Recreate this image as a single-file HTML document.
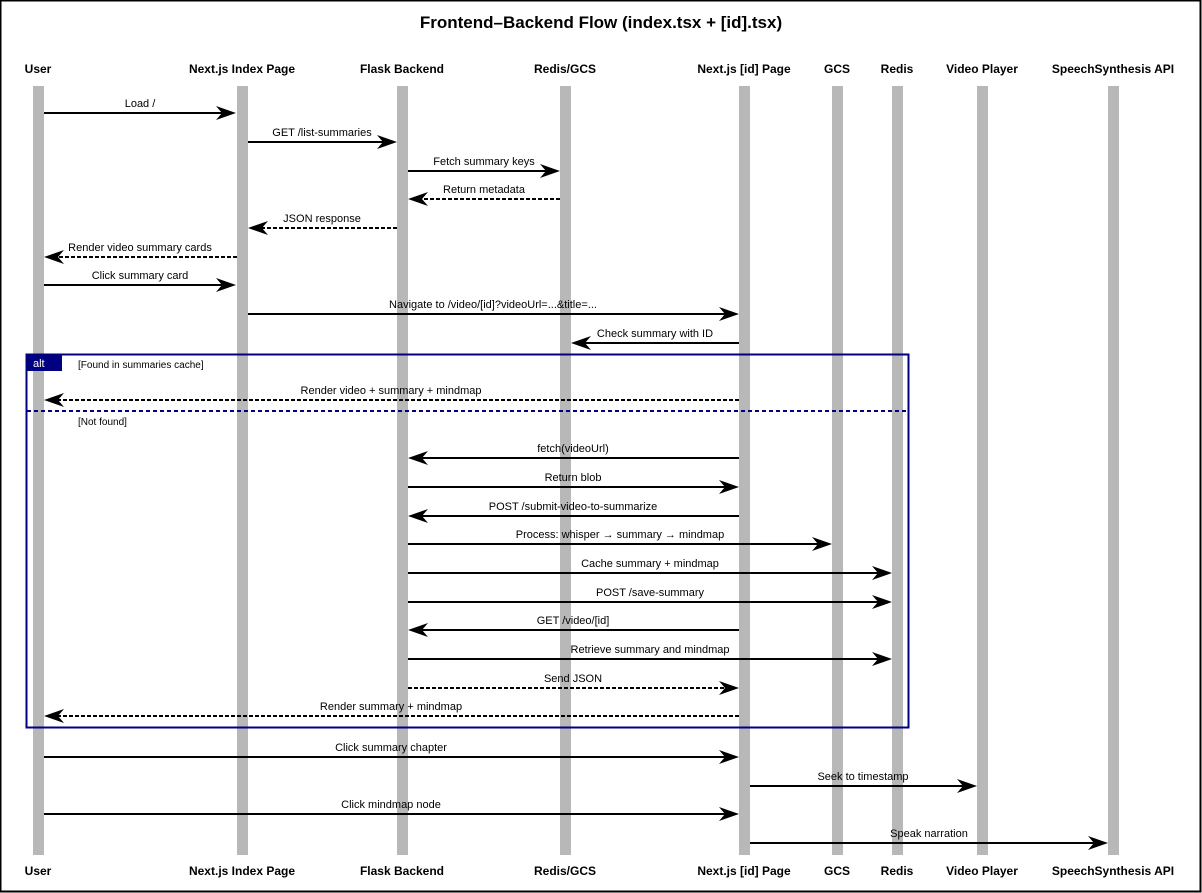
<!DOCTYPE html>
<html><head><meta charset="utf-8"><style>
html,body{margin:0;padding:0;background:#fff}
svg{display:block}
text{font-family:"Liberation Sans",sans-serif;fill:#000}
.l{font-size:11px;text-anchor:middle}
.p{font-size:12px;font-weight:bold;text-anchor:middle}
</style></head><body>
<svg width="1202" height="893" viewBox="0 0 1202 893" xmlns="http://www.w3.org/2000/svg">
<rect x="0.5" y="0.5" width="1200" height="891" fill="#fff" stroke="#000" stroke-width="2"/>
<text x="601" y="28" style="font-size:17px;font-weight:bold;text-anchor:middle">Frontend–Backend Flow (index.tsx + [id].tsx)</text>
<g fill="#b8b8b8">
<rect x="33" y="86" width="11" height="769"/>
<rect x="237" y="86" width="11" height="769"/>
<rect x="397" y="86" width="11" height="769"/>
<rect x="560" y="86" width="11" height="769"/>
<rect x="739" y="86" width="11" height="769"/>
<rect x="832" y="86" width="11" height="769"/>
<rect x="892" y="86" width="11" height="769"/>
<rect x="977" y="86" width="11" height="769"/>
<rect x="1108" y="86" width="11" height="769"/>
</g>
<g>
<text class="p" x="38" y="73">User</text><text class="p" x="242" y="73">Next.js Index Page</text><text class="p" x="402" y="73">Flask Backend</text><text class="p" x="565" y="73">Redis/GCS</text><text class="p" x="744" y="73">Next.js [id] Page</text><text class="p" x="837" y="73">GCS</text><text class="p" x="897" y="73">Redis</text><text class="p" x="982" y="73">Video Player</text><text class="p" x="1113" y="73">SpeechSynthesis API</text>
<text class="p" x="38" y="875">User</text><text class="p" x="242" y="875">Next.js Index Page</text><text class="p" x="402" y="875">Flask Backend</text><text class="p" x="565" y="875">Redis/GCS</text><text class="p" x="744" y="875">Next.js [id] Page</text><text class="p" x="837" y="875">GCS</text><text class="p" x="897" y="875">Redis</text><text class="p" x="982" y="875">Video Player</text><text class="p" x="1113" y="875">SpeechSynthesis API</text>
</g>
<rect x="26.5" y="354.5" width="882" height="373" fill="none" stroke="#000080" stroke-width="2"/>
<rect x="26" y="354" width="36" height="17" fill="#000080"/>
<text x="33" y="367" style="font-size:11px;fill:#fff">alt</text>
<text x="78" y="368" style="font-size:10px">[Found in summaries cache]</text>
<line x1="27" y1="411" x2="908" y2="411" stroke="#000080" stroke-width="2" stroke-dasharray="4,3"/>
<text x="78" y="425" style="font-size:10px">[Not found]</text>
<g stroke="#000" stroke-width="2" fill="none">
<line x1="44" y1="113" x2="226" y2="113"/>
<line x1="248" y1="142" x2="387" y2="142"/>
<line x1="408" y1="171" x2="550" y2="171"/>
<line x1="560" y1="199" x2="418" y2="199" stroke-dasharray="4,2"/>
<line x1="397" y1="228" x2="258" y2="228" stroke-dasharray="4,2"/>
<line x1="237" y1="257" x2="54" y2="257" stroke-dasharray="4,2"/>
<line x1="44" y1="285" x2="226" y2="285"/>
<line x1="248" y1="314" x2="729" y2="314"/>
<line x1="739" y1="343" x2="581" y2="343"/>
<line x1="739" y1="400" x2="54" y2="400" stroke-dasharray="4,2"/>
<line x1="739" y1="458" x2="418" y2="458"/>
<line x1="408" y1="487" x2="729" y2="487"/>
<line x1="739" y1="516" x2="418" y2="516"/>
<line x1="408" y1="544" x2="822" y2="544"/>
<line x1="408" y1="573" x2="882" y2="573"/>
<line x1="408" y1="602" x2="882" y2="602"/>
<line x1="739" y1="630" x2="418" y2="630"/>
<line x1="408" y1="659" x2="882" y2="659"/>
<line x1="408" y1="688" x2="729" y2="688" stroke-dasharray="4,2"/>
<line x1="739" y1="716" x2="54" y2="716" stroke-dasharray="4,2"/>
<line x1="44" y1="757" x2="729" y2="757"/>
<line x1="750" y1="786" x2="967" y2="786"/>
<line x1="44" y1="814" x2="729" y2="814"/>
<line x1="750" y1="843" x2="1098" y2="843"/>
</g>
<g fill="#000">
<path d="M236,113 l-20,-7 l6,7 l-6,7z"/>
<path d="M397,142 l-20,-7 l6,7 l-6,7z"/>
<path d="M560,171 l-20,-7 l6,7 l-6,7z"/>
<path d="M236,285 l-20,-7 l6,7 l-6,7z"/>
<path d="M739,314 l-20,-7 l6,7 l-6,7z"/>
<path d="M739,487 l-20,-7 l6,7 l-6,7z"/>
<path d="M832,544 l-20,-7 l6,7 l-6,7z"/>
<path d="M892,573 l-20,-7 l6,7 l-6,7z"/>
<path d="M892,602 l-20,-7 l6,7 l-6,7z"/>
<path d="M892,659 l-20,-7 l6,7 l-6,7z"/>
<path d="M739,688 l-20,-7 l6,7 l-6,7z"/>
<path d="M739,757 l-20,-7 l6,7 l-6,7z"/>
<path d="M977,786 l-20,-7 l6,7 l-6,7z"/>
<path d="M739,814 l-20,-7 l6,7 l-6,7z"/>
<path d="M1108,843 l-20,-7 l6,7 l-6,7z"/>
<path d="M408,199 l20,-7 l-6,7 l6,7z"/>
<path d="M248,228 l20,-7 l-6,7 l6,7z"/>
<path d="M44,257 l20,-7 l-6,7 l6,7z"/>
<path d="M571,343 l20,-7 l-6,7 l6,7z"/>
<path d="M44,400 l20,-7 l-6,7 l6,7z"/>
<path d="M408,458 l20,-7 l-6,7 l6,7z"/>
<path d="M408,516 l20,-7 l-6,7 l6,7z"/>
<path d="M408,630 l20,-7 l-6,7 l6,7z"/>
<path d="M44,716 l20,-7 l-6,7 l6,7z"/>
</g>
<g>
<text class="l" x="140" y="107">Load /</text>
<text class="l" x="322" y="136">GET /list-summaries</text>
<text class="l" x="484" y="165">Fetch summary keys</text>
<text class="l" x="484" y="193">Return metadata</text>
<text class="l" x="322" y="222">JSON response</text>
<text class="l" x="140" y="251">Render video summary cards</text>
<text class="l" x="140" y="279">Click summary card</text>
<text class="l" x="493" y="308">Navigate to /video/[id]?videoUrl=...&amp;title=...</text>
<text class="l" x="655" y="337">Check summary with ID</text>
<text class="l" x="391" y="394">Render video + summary + mindmap</text>
<text class="l" x="573" y="452">fetch(videoUrl)</text>
<text class="l" x="573" y="481">Return blob</text>
<text class="l" x="573" y="510">POST /submit-video-to-summarize</text>
<text class="l" x="620" y="538">Process: whisper → summary → mindmap</text>
<text class="l" x="650" y="567">Cache summary + mindmap</text>
<text class="l" x="650" y="596">POST /save-summary</text>
<text class="l" x="573" y="624">GET /video/[id]</text>
<text class="l" x="650" y="653">Retrieve summary and mindmap</text>
<text class="l" x="573" y="682">Send JSON</text>
<text class="l" x="391" y="710">Render summary + mindmap</text>
<text class="l" x="391" y="751">Click summary chapter</text>
<text class="l" x="863" y="780">Seek to timestamp</text>
<text class="l" x="391" y="808">Click mindmap node</text>
<text class="l" x="929" y="837">Speak narration</text>
</g>
</svg>
</body></html>
